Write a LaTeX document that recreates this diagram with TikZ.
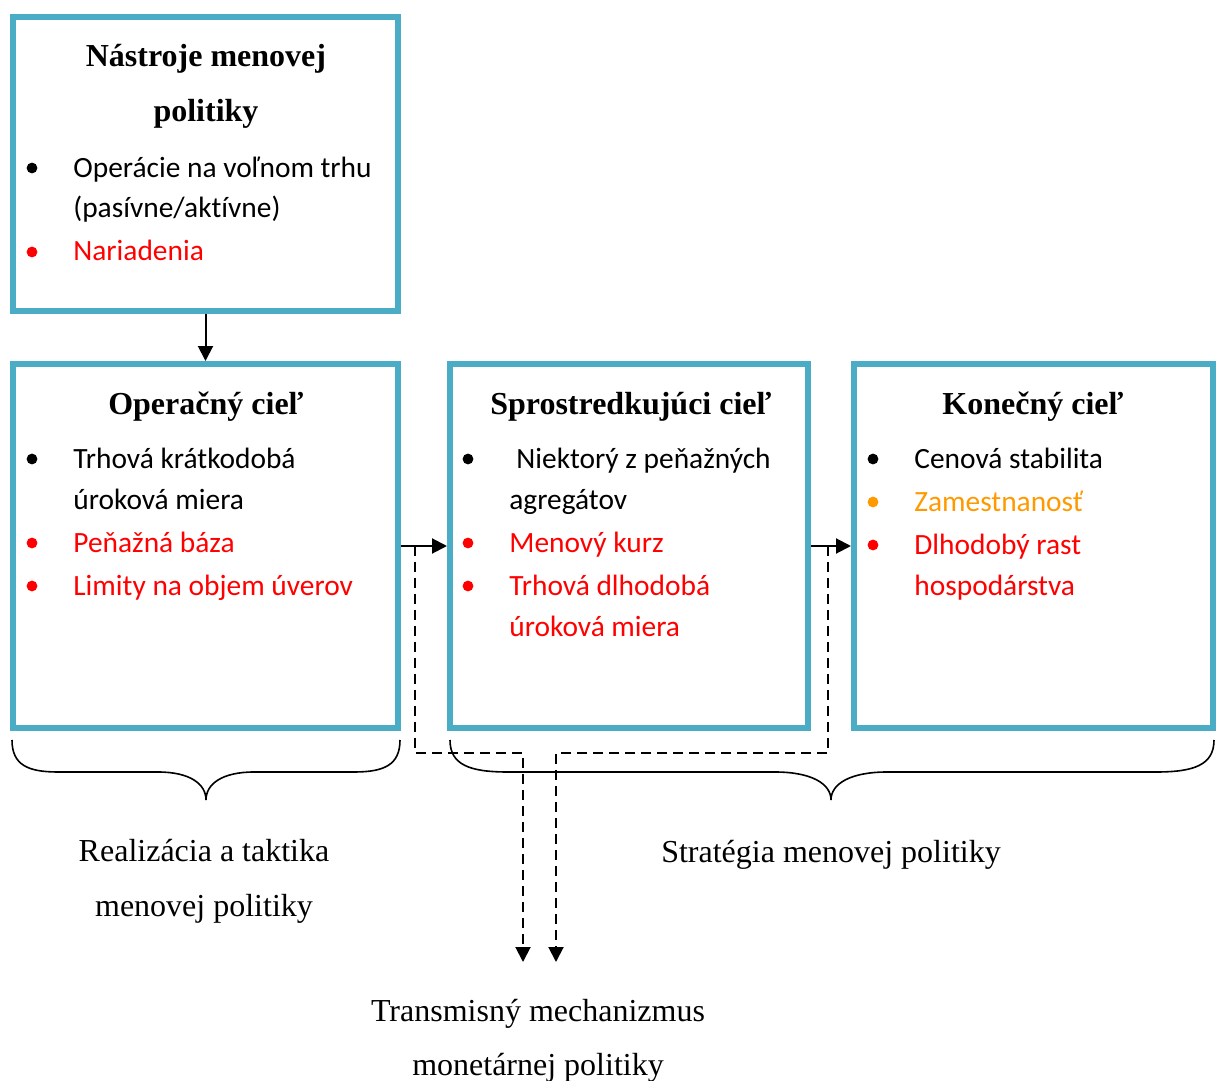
\documentclass[tikz,border=0pt]{standalone}
\usepackage{fontspec}
\setmainfont{Liberation Serif}
\newfontfamily\calibri[RawFeature={-liga}]{Carlito}
\usetikzlibrary{arrows.meta}
\definecolor{boxblue}{HTML}{4BACC6}
\definecolor{itemred}{HTML}{FF0000}
\definecolor{itemorange}{HTML}{FF9900}

\begin{document}
\begin{tikzpicture}[x=0.5pt,y=-0.5pt,
	goal/.style={draw=boxblue, line width=3pt, rectangle, minimum width=192.5pt, minimum height=182pt},
	head/.style={anchor=base, inner sep=0pt, font=\fontsize{16}{19}\selectfont\bfseries},
	item/.style={anchor=base west, inner sep=0pt, font=\calibri\fontsize{14.7}{18}\selectfont},
	dot/.style={circle, fill, inner sep=0pt, minimum size=5.4pt},
	caption/.style={anchor=base, inner sep=0pt, font=\fontsize{16}{19}\selectfont},
	link/.style={line width=1pt, -{Triangle[length=7.5pt,width=7.5pt]}},
	channel/.style={line width=1pt, dash pattern=on 5pt off 3pt, -{Triangle[length=7.5pt,width=7.5pt]}},
	brace/.style={line width=0.8pt}]
			\useasboundingbox (0,0) rectangle (1217,1081);

			% boxes
			\draw (205.5, 164) 	node[goal, minimum height=147pt] 		(tools) 	{};
			\draw (205.5, 546) 	node[goal] 								(oper) 		{};
			\draw (629, 546) 	node[goal, minimum width=179pt] 		(inter) 	{};
			\draw (1033.5, 546) node[goal, minimum width=179.5pt] 		(final) 	{};

			% headings
			\draw (206, 67) 	node[head] 	(tools_h1) 	{Nástroje menovej};
			\draw (206, 122) 	node[head] 	(tools_h2) 	{politiky};
			\draw (206, 414) 	node[head] 	(oper_h) 	{Operačný cieľ};
			\draw (631, 414) 	node[head] 	(inter_h) 	{Sprostredkujúci cieľ};
			\draw (1033, 414) 	node[head] 	(final_h) 	{Konečný cieľ};

			% tools
			\draw (32, 168) 	node[dot] 						(tools_d1) 	{};
			\draw (32, 252) 	node[dot, itemred] 				(tools_d2) 	{};
			\draw (73, 177) 	node[item] 						(tools_i1) 	{Operácie na voľnom trhu};
			\draw (73, 218) 	node[item] 						(tools_i1b) {(pasívne/aktívne)};
			\draw (73, 261) 	node[item, itemred] 			(tools_i2) 	{Nariadenia};

			% operating target
			\draw (32, 459) 	node[dot] 						(oper_d1) 	{};
			\draw (32, 543) 	node[dot, itemred] 				(oper_d2) 	{};
			\draw (32, 586) 	node[dot, itemred] 				(oper_d3) 	{};
			\draw (73, 468) 	node[item] 						(oper_i1) 	{Trhová krátkodobá};
			\draw (73, 509) 	node[item] 						(oper_i1b) 	{úroková miera};
			\draw (73, 552) 	node[item, itemred] 			(oper_i2) 	{Peňažná báza};
			\draw (73, 595) 	node[item, itemred] 			(oper_i3) 	{Limity na objem úverov};

			% intermediate target
			\draw (468, 459) 	node[dot] 						(inter_d1) 	{};
			\draw (468, 543) 	node[dot, itemred] 				(inter_d2) 	{};
			\draw (468, 586) 	node[dot, itemred] 				(inter_d3) 	{};
			\draw (516, 468) 	node[item] 						(inter_i1) 	{Niektorý z peňažných};
			\draw (509, 509) 	node[item] 						(inter_i1b) {agregátov};
			\draw (509, 552) 	node[item, itemred] 			(inter_i2) 	{Menový kurz};
			\draw (509, 595) 	node[item, itemred] 			(inter_i3) 	{Trhová dlhodobá};
			\draw (509, 636) 	node[item, itemred] 			(inter_i3b) {úroková miera};

			% final target
			\draw (873, 459) 	node[dot] 						(final_d1) 	{};
			\draw (873, 502) 	node[dot, itemorange] 			(final_d2) 	{};
			\draw (873, 545) 	node[dot, itemred] 				(final_d3) 	{};
			\draw (914, 468) 	node[item] 						(final_i1) 	{Cenová stabilita};
			\draw (914, 511) 	node[item, itemorange] 			(final_i2) 	{Zamestnanosť};
			\draw (914, 554) 	node[item, itemred] 			(final_i3) 	{Dlhodobý rast};
			\draw (914, 595) 	node[item, itemred] 			(final_i3b) {hospodárstva};

			% captions
			\draw (204, 861) 	node[caption] 	(tactic1) 	{Realizácia a taktika};
			\draw (204, 916) 	node[caption] 	(tactic2) 	{menovej politiky};
			\draw (831, 862) 	node[caption] 	(strategy) 	{Stratégia menovej politiky};
			\draw (538, 1021) 	node[caption] 	(trans1) 	{Transmisný mechanizmus};
			\draw (538, 1075) 	node[caption] 	(trans2) 	{monetárnej politiky};

			% arrows
			\draw[link] (tools) -- (oper);
			\draw[link] (oper) -- (inter);
			\draw[link] (inter) -- (final);

			\coordinate (s1) at (415, 546);
			\coordinate (s2) at (828, 546);
			\coordinate (t1) at (523, 962);
			\coordinate (t2) at (556, 962);
			\draw[channel] (s1) |- (523, 753) -- (t1);
			\draw[channel] (s2) |- (556, 753) -- (t2);

			% braces
			\draw[brace] (12, 740) .. controls (12, 765) and (28, 772) .. (58, 772) -- (158, 772)
				.. controls (190, 772) and (206, 784) .. (206, 800)
				.. controls (206, 784) and (222, 772) .. (254, 772) -- (354, 772)
				.. controls (384, 772) and (400, 765) .. (400, 740);
			\draw[brace] (450, 740) .. controls (450, 765) and (470, 772) .. (508, 772) -- (775, 772)
				.. controls (812, 772) and (831, 784) .. (831, 800)
				.. controls (831, 784) and (850, 772) .. (887, 772) -- (1156, 772)
				.. controls (1194, 772) and (1214, 765) .. (1214, 740);
		\end{tikzpicture}
\end{document}
